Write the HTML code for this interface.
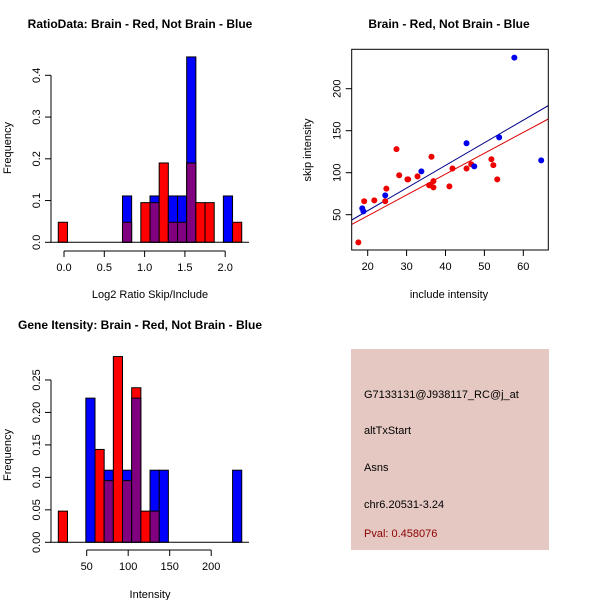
<!DOCTYPE html>
<html><head><meta charset="utf-8"><style>
body{margin:0;background:#fff;}
svg{display:block;font-family:"Liberation Sans",sans-serif;}
</style></head><body>
<svg id="c" width="600" height="600" viewBox="0 0 600 600">
<rect x="0" y="0" width="600" height="600" fill="#fff"/>
<rect x="351" y="349" width="198" height="201" fill="#e5c8c2"/>
<g font-size="11" fill="#000">
<text x="364" y="398">G7133131@J938117_RC@j_at</text>
<text x="364" y="434">altTxStart</text>
<text x="364" y="471">Asns</text>
<text x="364" y="508">chr6.20531-3.24</text>
<text x="364" y="537" fill="#8b0000">Pval: 0.458076</text>
</g>
</svg>
<script>
// ---- Panel 1: ratio histogram ----
const ratioBinStart = -0.071;
const ratioBinWidth = 0.1138;
const ratioBins = [0,7,9,10,11,12,13,14,15,16,18,19];
const ratioRed  = [0.048,0.048,0.095,0.095,0.19,0.048,0.048,0.19,0.095,0.095,0,0.048];
const ratioBlue = [0,0.111,0,0.111,0,0.111,0.111,0.444,0,0,0.111,0];
const ratioXTicks = [0,0.5,1,1.5,2];
const ratioXLabels = ["0.0","0.5","1.0","1.5","2.0"];
const ratioYTicks = [0,0.1,0.2,0.3,0.4];
const ratioYLabels = ["0.0","0.1","0.2","0.3","0.4"];
// ---- Panel 2: scatter ----
const redX = [17.6,19.1,21.7,24.5,24.8,27.4,28.1,30.2,30.4,32.8,35.8,36.4,36.1,36.9,36.9,41.0,41.8,45.4,46.6,51.8,52.3,53.3];
const redY = [17,66,67,66,81,128,97,92,92,95.6,85,119,85,90,82.5,83.7,105,105,110,116,109,92];
const blueX = [18.6,18.9,24.5,33.8,45.4,47.4,53.8,57.7,64.6];
const blueY = [57.5,54,73,101.6,135,107.5,142,237,114.7];
const fitIntercept = [-1.0, 0.85]; // red, blue
const fitSlope = [2.483, 2.695];
const scXTicks = [20,30,40,50,60];
const scYTicks = [50,100,150,200];
// ---- Panel 3: intensity histogram ----
const intBinStart = 15.8;
const intBinWidth = 11.05;
const intBins = [0,3,4,5,6,7,8,9,10,11,19];
const intRed  = [0.048,0,0.143,0.095,0.286,0.095,0.238,0.048,0.048,0,0];
const intBlue = [0,0.222,0,0.111,0,0.111,0.222,0,0.111,0.111,0.111];
const intXTicks = [50,100,150,200];
const intYTicks = [0,0.05,0.1,0.15,0.2,0.25];
const intYLabels = ["0.00","0.05","0.10","0.15","0.20","0.25"];

const svg = document.getElementById('c');
const NS = 'http://www.w3.org/2000/svg';
function mk(tag, attrs, parent){
  const e = document.createElementNS(NS, tag);
  for (const k in attrs) e.setAttribute(k, attrs[k]);
  (parent||svg).appendChild(e);
  return e;
}
function txt(x,y,s,opts,parent){
  const t = mk('text',{x:x,y:y,'text-anchor':'middle','font-size':opts.size||11},parent);
  if(opts.bold) t.setAttribute('font-weight','bold');
  if(opts.rot) t.setAttribute('transform','rotate(-90 '+x+' '+y+')');
  t.textContent = s;
  return t;
}

function histogram(cfg){
  const g = mk('g',{});
  
  
  const sx = v => cfg.x0 + (v - cfg.xv0) * cfg.kx;
  const sy = v => cfg.y0 - v * cfg.ky;
  cfg.bins.forEach((b,i)=>{
    const x1 = sx(cfg.start + b*cfg.width), x2 = sx(cfg.start + (b+1)*cfg.width);
    const r = cfg.red[i], bl = cfg.blue[i];
    const mx = Math.max(r,bl), mn = Math.min(r,bl);
    const top = mk('rect',{x:x1,y:sy(mx),width:x2-x1,height:sy(0)-sy(mx),fill:r>=bl?'#ff0000':'#0000ff',stroke:'#000','stroke-width':1},g);
    
    
    if(mn>0){
      const p = mk('rect',{x:x1,y:sy(mn),width:x2-x1,height:sy(0)-sy(mn),fill:'#800080',stroke:'#000','stroke-width':1},g);
      
      
    }
  });
  // baseline
  mk('line',{x1:50,x2:249,y1:sy(0),y2:sy(0),stroke:'#000'},g);
  // x axis
  const xt = cfg.xTicks;
  mk('line',{x1:sx(xt[0]),x2:sx(xt[xt.length-1]),y1:cfg.axY,y2:cfg.axY,stroke:'#000'},g);
  xt.forEach((v,i)=>{
    mk('line',{x1:sx(v),x2:sx(v),y1:cfg.axY,y2:cfg.axY+6,stroke:'#000'},g);
    txt(sx(v),cfg.axY+20,cfg.xLabels[i],{},g);
  });
  // y axis
  const yt = cfg.yTicks;
  mk('line',{x1:51,x2:51,y1:sy(yt[0]),y2:sy(yt[yt.length-1]),stroke:'#000'},g);
  yt.forEach((v,i)=>{
    mk('line',{x1:45,x2:51,y1:sy(v),y2:sy(v),stroke:'#000'},g);
    txt(40,sy(v),cfg.yLabels[i],{rot:true},g);
  });
  const t1 = txt(140,cfg.titleY,cfg.title,{bold:true,size:12},g);
  
  
  const t2 = txt(150,cfg.xlabY,cfg.xlab,{},g);
  
  
  const t3 = txt(11,cfg.ylabMid,'Frequency',{rot:true},g);
  
  
}

histogram({name:'ratio-histogram',x0:64,xv0:0,kx:80.6,y0:242.3,ky:417.5,
  start:ratioBinStart,width:ratioBinWidth,bins:ratioBins,red:ratioRed,blue:ratioBlue,
  xTicks:ratioXTicks,xLabels:ratioXLabels,yTicks:ratioYTicks,yLabels:ratioYLabels,axY:251,
  title:'RatioData: Brain - Red, Not Brain - Blue',titleY:28,xlab:'Log2 Ratio Skip/Include',xlabY:298,ylabMid:148});

histogram({name:'intensity-histogram',x0:86.7,xv0:50,kx:0.83,y0:542.3,ky:649.4,
  start:intBinStart,width:intBinWidth,bins:intBins,red:intRed,blue:intBlue,
  xTicks:intXTicks,xLabels:intXTicks.map(String),yTicks:intYTicks,yLabels:intYLabels,axY:550,
  title:'Gene Itensity: Brain - Red, Not Brain - Blue',titleY:329,xlab:'Intensity',xlabY:598,ylabMid:455});

// scatter
(function(){
  const g = mk('g',{});
  
  
  const L=351.7,R=548.3,T=49.3,B=250;
  const sx = v => 367.7 + (v-20)*3.89;
  const sy = v => 214.7 - (v-50)*0.84;
  const clip = mk('clipPath',{id:'scclip'},g);
  mk('rect',{x:L,y:T,width:R-L,height:B-T},clip);
  const xmin = 20+(L-367.7)/3.89, xmax = 20+(R-367.7)/3.89;
  const cols = ['#dd0000','#00008b'];
  fitIntercept.forEach((a,i)=>{
    const b = fitSlope[i];
    const ln = mk('line',{x1:sx(xmin),y1:sy(a+b*xmin),x2:sx(xmax),y2:sy(a+b*xmax),stroke:cols[i],'stroke-width':1,'clip-path':'url(#scclip)'},g);
    
    
  });
  redX.forEach((x,i)=>{
    const c = mk('circle',{cx:sx(x),cy:sy(redY[i]),r:3,fill:'#ee0000'},g);
    
    
  });
  blueX.forEach((x,i)=>{
    const c = mk('circle',{cx:sx(x),cy:sy(blueY[i]),r:3,fill:'#0000ee'},g);
    
    
  });
  mk('rect',{x:L,y:T,width:R-L,height:B-T,fill:'none',stroke:'#000'},g);
  scXTicks.forEach(v=>{
    mk('line',{x1:sx(v),x2:sx(v),y1:B,y2:B+6,stroke:'#000'},g);
    txt(sx(v),B+20,String(v),{},g);
  });
  scYTicks.forEach(v=>{
    mk('line',{x1:L-6,x2:L,y1:sy(v),y2:sy(v),stroke:'#000'},g);
    txt(L-11,sy(v),String(v),{rot:true},g);
  });
  const t1 = txt(449,28,'Brain - Red, Not Brain - Blue',{bold:true,size:12},g);
  
  
  const t2 = txt(449,298,'include intensity',{},g);
  
  
  const t3 = txt(311,150,'skip intensity',{rot:true},g);
  
  
})();
</script>
</body></html>
